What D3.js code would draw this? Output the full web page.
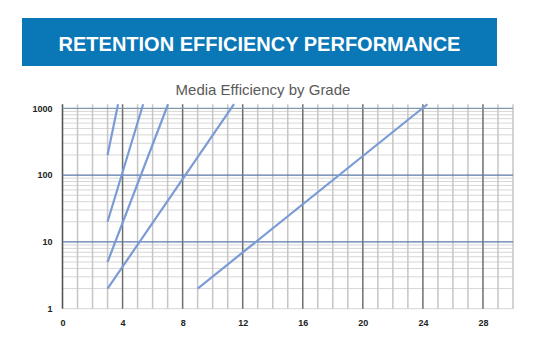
<!DOCTYPE html>
<html>
<head>
<meta charset="utf-8">
<script src="https://cdn.jsdelivr.net/npm/d3@7"></script>
<style>
  html, body { margin: 0; padding: 0; background: #fff; }
  svg { display: block; }
</style>
</head>
<body>
<svg id="chart" width="546" height="350"></svg>
<script>
// Chart text
const bannerText = "RETENTION EFFICIENCY PERFORMANCE";
const chartTitle = "Media Efficiency by Grade";

// Axis ticks
const xTickLabels = [0, 4, 8, 12, 16, 20, 24, 28];
const yTickLabels = [1, 10, 100, 1000];
const xGridValues = d3.range(0, 31);

// Each series: [grade, efficiency] from its start to where it leaves the top of the grid
const seriesA = [[3, 200], [3.70, 1150]];
const seriesB = [[3, 20], [5.37, 1150]];
const seriesC = [[3, 5], [7.03, 1150]];
const seriesD = [[3, 2], [11.42, 1150]];
const seriesE = [[9, 2], [24.3, 1150]];
const allSeries = [seriesA, seriesB, seriesC, seriesD, seriesE];

const svg = d3.select("#chart");

// Banner
svg.append("rect")
  .attr("x", 22).attr("y", 18).attr("width", 475).attr("height", 48)
  .attr("fill", "#0a77b7");
svg.append("text")
  .attr("x", 259.5).attr("y", 51)
  .attr("text-anchor", "middle")
  .attr("font-family", "Liberation Sans, Arial, sans-serif")
  .attr("font-weight", "bold")
  .attr("font-size", 20)
  .attr("fill", "#fff")
  .text(bannerText);

// Title
svg.append("text")
  .attr("x", 263).attr("y", 95)
  .attr("text-anchor", "middle")
  .attr("font-family", "Liberation Sans, Arial, sans-serif")
  .attr("font-size", 15)
  .attr("fill", "#5a5a5a")
  .text(chartTitle);

// Scales
const x = d3.scaleLinear().domain([0, 30]).range([62.5, 513]);
const y = d3.scaleLog().domain([1, 1000]).range([308.7, 108.3]);
const gridTop = y(1150);

const g = svg.append("g");

// Minor horizontal grid: 2..9 in every decade, plus the baseline at 1
const minorY = [];
[1, 10, 100].forEach(d => { for (let k = 2; k <= 9; k++) minorY.push(d * k); });
minorY.push(1);
g.selectAll("line.hminor").data(minorY).join("line")
  .attr("class", "hminor")
  .attr("x1", x(0)).attr("x2", x(30))
  .attr("y1", d => y(d)).attr("y2", d => y(d))
  .attr("stroke", "#d6d6d6").attr("stroke-width", 1);

// Vertical grid, heavier every 4 grades
g.selectAll("line.v").data(xGridValues).join("line")
  .attr("class", "v")
  .attr("x1", d => x(d)).attr("x2", d => x(d))
  .attr("y1", gridTop).attr("y2", y(1))
  .attr("stroke", d => d === 0 ? "#555" : (d % 4 === 0 ? "#6e6e6e" : "#c6c6c6"))
  .attr("stroke-width", d => d === 0 ? 1.6 : 1.5);

// Major horizontal grid at each decade
g.selectAll("line.hmajor").data([10, 100, 1000]).join("line")
  .attr("class", "hmajor")
  .attr("x1", x(0)).attr("x2", x(30))
  .attr("y1", d => y(d)).attr("y2", d => y(d))
  .attr("stroke", d => d === 1000 ? "#7d9aa9" : "#5b78a8")
  .attr("stroke-width", 1.3);

// Series lines
const line = d3.line().x(d => x(d[0])).y(d => y(d[1]));
g.selectAll("path.series").data(allSeries).join("path")
  .attr("class", "series")
  .attr("d", line)
  .attr("fill", "none")
  .attr("stroke", "#7b9bd6")
  .attr("stroke-width", 2.2)
  .attr("stroke-linecap", "butt");

// Axes labels
const xAxis = d3.axisBottom(x).tickValues(xTickLabels).tickSize(0).tickPadding(0).tickFormat(d3.format("d"));
const xa = svg.append("g").attr("transform", `translate(0, ${y(1) + 17})`).call(xAxis);
xa.select(".domain").remove();
xa.selectAll("text")
  .attr("font-family", "Liberation Sans, Arial, sans-serif")
  .attr("font-weight", "bold")
  .attr("font-size", 9)
  .attr("fill", "#222")
  .attr("dy", 0);

const yAxis = d3.axisLeft(y).tickValues(yTickLabels).tickSize(0).tickPadding(0).tickFormat(d3.format("d"));
const ya = svg.append("g").attr("transform", `translate(${52.5}, 0)`).call(yAxis);
ya.select(".domain").remove();
ya.selectAll("text")
  .attr("font-family", "Liberation Sans, Arial, sans-serif")
  .attr("font-weight", "bold")
  .attr("font-size", 9)
  .attr("fill", "#222");
</script>
</body>
</html>
